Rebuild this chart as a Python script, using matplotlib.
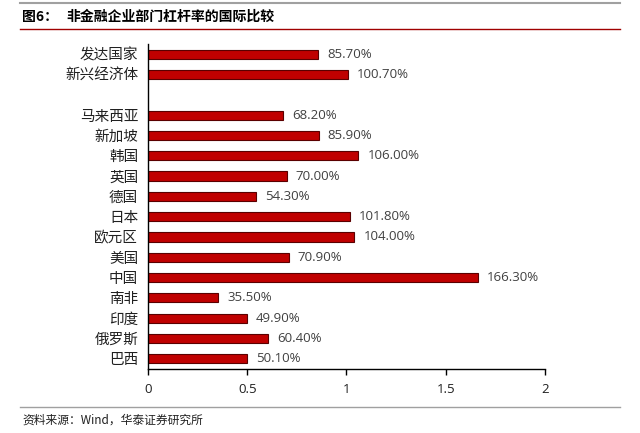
import matplotlib
matplotlib.use('Agg')
import matplotlib.pyplot as plt
from matplotlib.lines import Line2D
import numpy as np

plt.rcParams['font.family'] = ['Noto Sans CJK SC', 'DejaVu Sans']

# data (top to bottom), blank row separates groups
labels = ['发达国家', '新兴经济体', '', '马来西亚', '新加坡', '韩国', '英国', '德国',
          '日本', '欧元区', '美国', '中国', '南非', '印度', '俄罗斯', '巴西']
values = [0.857, 1.007, None, 0.682, 0.859, 1.060, 0.700, 0.543,
          1.018, 1.040, 0.709, 1.663, 0.355, 0.499, 0.604, 0.501]
value_text = ['85.70%', '100.70%', '', '68.20%', '85.90%', '106.00%', '70.00%', '54.30%',
              '101.80%', '104.00%', '70.90%', '166.30%', '35.50%', '49.90%', '60.40%', '50.10%']
xticks = [0, 0.5, 1, 1.5, 2]
xticklabels = ['0', '0.5', '1', '1.5', '2']

fig = plt.figure(figsize=(6.4, 4.33), dpi=100)
ax = fig.add_axes([0.23125, 0.1478, 0.6203, 0.7506])

pos = np.arange(len(labels))
for i, v in enumerate(values):
    if v is None:
        continue
    ax.barh(pos[i], v, height=0.45, color='#C00000', edgecolor='#5a0000', linewidth=0.8)
    ax.text(v + 0.045, pos[i], value_text[i], va='center', ha='left',
            fontsize=9.5, color='#404040', family=['Open Sans', 'DejaVu Sans'])

ax.set_ylim(len(labels) - 0.5, -0.5)
ax.set_xlim(0, 2)
ax.set_yticks(pos)
ax.set_yticklabels(labels, fontsize=10.5, color='#202020')
ax.tick_params(axis='y', length=0, pad=7)
ax.set_xticks(xticks)
ax.set_xticklabels(xticklabels, fontsize=9.5, color='#202020',
                   family=['Open Sans', 'DejaVu Sans'])
ax.tick_params(axis='x', length=4, direction='out', width=1, pad=6)
for s in ['top', 'right']:
    ax.spines[s].set_visible(False)
ax.spines['left'].set_linewidth(1)
ax.spines['bottom'].set_linewidth(1)

# frame lines and title
fig.add_artist(Line2D([20 / 640, 620 / 640], [1 - 3 / 433, 1 - 3 / 433], color='#a0a0a0', lw=1.5))
fig.add_artist(Line2D([20 / 640, 620 / 640], [1 - 29 / 433, 1 - 29 / 433], color='#a00000', lw=1))
fig.text(22 / 640, 1 - 17 / 433, '图6：', fontsize=10, fontweight='black', va='center', ha='left')
fig.text(66 / 640, 1 - 17 / 433, '非金融企业部门杠杆率的国际比较', fontsize=10,
         fontweight='black', va='center', ha='left')
fig.add_artist(Line2D([20 / 640, 620 / 640], [1 - 407 / 433, 1 - 407 / 433], color='#a0a0a0', lw=1))
fig.text(22 / 640, 1 - 420 / 433, '资料来源：Wind，华泰证券研究所', fontsize=8.5,
         style='italic', va='center', ha='left', color='#202020')

plt.savefig('out.png', dpi=100)
